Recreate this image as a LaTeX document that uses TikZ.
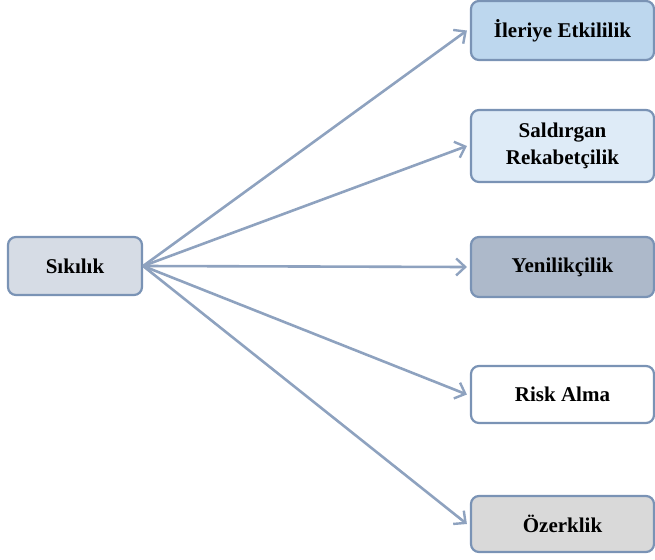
\documentclass[tikz,border=0pt]{standalone}
\usepackage{fontspec}
\setmainfont{Liberation Serif}
\usetikzlibrary{arrows.meta}
\definecolor{bordc}{HTML}{7A93B5}
\definecolor{arrc}{HTML}{8EA2BF}
\definecolor{fA}{HTML}{BDD7EE}
\definecolor{fB}{HTML}{DEEBF7}
\definecolor{fC}{HTML}{ADB9CA}
\definecolor{fD}{HTML}{FFFFFF}
\definecolor{fE}{HTML}{D9D9D9}
\definecolor{fS}{HTML}{D6DCE5}
\tikzset{
  box/.style={draw=bordc, line width=2.2pt, rounded corners=8pt, align=center,
    font=\fontsize{21}{27}\selectfont\bfseries, inner sep=0pt},
  rbox/.style={box, minimum width=183pt},
  conn/.style={draw=arrc, line width=2.6pt, -{Straight Barb[length=9pt,width=17pt,line width=2.4pt]}}
}
\begin{document}
\begin{tikzpicture}[x=1pt,y=-1pt]
\useasboundingbox (0,0) rectangle (655,559);
\node[box, fill=fS, minimum width=134pt, minimum height=58pt] (s) at (75,266) {Sıkılık};
\node[rbox, fill=fA, minimum height=59pt] (a) at (562.5,30.5) {İleriye Etkililik};
\node[rbox, fill=fB, minimum height=72pt] (b) at (562.5,146) {Saldırgan\\Rekabetçilik};
\node[rbox, fill=fC, minimum height=60pt] (c) at (562.5,267) {Yenilikçilik};
\node[rbox, fill=fD, minimum height=57pt] (d) at (562.5,394.5) {Risk Alma};
\node[rbox, fill=fE, minimum height=56pt] (e) at (562.5,524) {Özerklik};
\foreach \t in {a,b,c,d,e}{
  \draw[conn] (s.east) -- ([xshift=-3pt]\t.west);
}
\end{tikzpicture}
\end{document}
